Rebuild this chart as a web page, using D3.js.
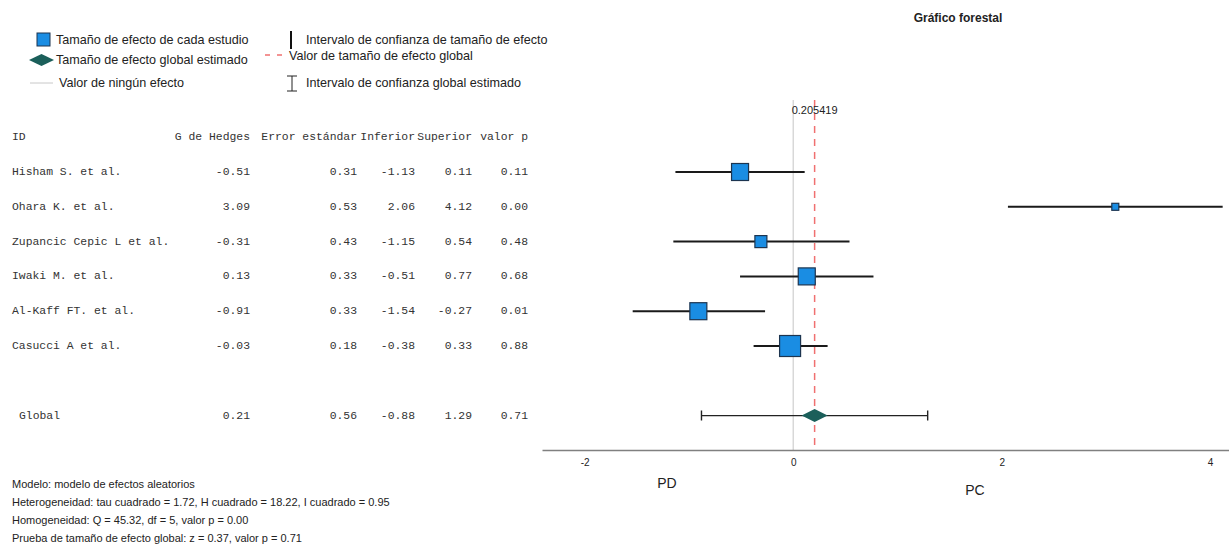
<!DOCTYPE html>
<html>
<head>
<meta charset="utf-8">
<script src="https://cdn.jsdelivr.net/npm/d3@7"></script>
<style>
  body { margin: 0; background: #fff; }
  text { font-family: "Liberation Sans", Arial, sans-serif; fill: #222; }
  .mono { font-family: "Liberation Mono", monospace; font-size: 11.4px; fill: #333; }
</style>
</head>
<body>
<svg id="forestSVG" width="1229" height="546"></svg>
<script>
// study data
const studies = ["Hisham S. et al.", "Ohara K. et al.", "Zupancic Cepic L et al.", "Iwaki M. et al.", "Al-Kaff FT. et al.", "Casucci A et al."];
const hedges = [-0.51, 3.09, -0.31, 0.13, -0.91, -0.03];
const stdErr = [0.31, 0.53, 0.43, 0.33, 0.33, 0.18];
const lower = [-1.13, 2.06, -1.15, -0.51, -1.54, -0.38];
const upper = [0.11, 4.12, 0.54, 0.77, -0.27, 0.33];
const pValue = [0.11, 0.00, 0.48, 0.68, 0.01, 0.88];
// relative weight of each study (marker side)
const weight = [17, 7, 12, 17, 17, 21];

const overall = { label: "Global", g: 0.21, se: 0.56, lo: -0.88, hi: 1.29, p: 0.71 };
const overallExact = 0.205419;

const headers = ["G de Hedges", "Error estándar", "Inferior", "Superior", "valor p"];
const xTicks = [-2, 0, 2, 4];
const notes = [
  "Modelo: modelo de efectos aleatorios",
  "Heterogeneidad: tau cuadrado = 1.72, H cuadrado = 18.22, I cuadrado = 0.95",
  "Homogeneidad: Q = 45.32, df = 5, valor p = 0.00",
  "Prueba de tamaño de efecto global: z = 0.37, valor p = 0.71"
];

const svg = d3.select("#forestSVG");
const fillSq = "#1a8de3", strokeSq = "#1d3550", diamondCol = "#1b5f5a", refRed = "#f07070";

const x = d3.scaleLinear().domain([-2.41, 4.2]).range([542, 1231]);
const y = d3.scaleLinear().domain([0, 1]).range([172, 206.8]);   // row index -> pixel
const rowGlobal = 7;

// title
svg.append("text").attr("x", 958).attr("y", 22).attr("text-anchor", "middle")
  .style("font-size", "12px").style("font-weight", "bold").text("Gráfico forestal");

// legend
const leg = svg.append("g");
leg.append("rect").attr("x", 37).attr("y", 33).attr("width", 13).attr("height", 13)
  .attr("fill", fillSq).attr("stroke", strokeSq);
leg.append("path").attr("d", "M29,60 L41.5,54 L54,60 L41.5,66 Z").attr("fill", diamondCol);
leg.append("line").attr("x1", 30).attr("x2", 53).attr("y1", 83).attr("y2", 83).attr("stroke", "#c8c8c8");
leg.append("line").attr("x1", 291).attr("x2", 291).attr("y1", 31).attr("y2", 49).attr("stroke", "#111").attr("stroke-width", 2);
leg.append("line").attr("x1", 265).attr("x2", 286).attr("y1", 55).attr("y2", 55)
  .attr("stroke", refRed).attr("stroke-width", 1.3).attr("stroke-dasharray", "5,7");
leg.append("path").attr("d", "M287,76 H297 M292,76 V91 M287,91 H297").attr("stroke", "#222").attr("fill", "none");
const legText = [
  [56, 40, "Tamaño de efecto de cada estudio"],
  [56, 60, "Tamaño de efecto global estimado"],
  [59, 83, "Valor de ningún efecto"],
  [306, 40, "Intervalo de confianza de tamaño de efecto"],
  [289, 56, "Valor de tamaño de efecto global"],
  [306, 83, "Intervalo de confianza global estimado"]
];
leg.selectAll("text.leg").data(legText).join("text").attr("class", "leg")
  .attr("x", d => d[0]).attr("y", d => d[1]).attr("dominant-baseline", "central")
  .style("font-size", "12.6px").text(d => d[2]);

// table
const colRight = [250, 357, 415, 472, 528];
const tbl = svg.append("g");
tbl.append("text").attr("class", "mono").attr("x", 12).attr("y", y(-1)).attr("dominant-baseline", "central").text("ID");
tbl.selectAll("text.hdr").data(headers).join("text").attr("class", "mono hdr")
  .attr("x", (d, i) => colRight[i]).attr("y", y(-1)).attr("text-anchor", "end")
  .attr("dominant-baseline", "central").text(d => d);

const rows = studies.map((s, i) => ({ label: s, idx: i, vals: [hedges[i], stdErr[i], lower[i], upper[i], pValue[i]] }));
rows.push({ label: overall.label, idx: rowGlobal, vals: [overall.g, overall.se, overall.lo, overall.hi, overall.p], global: true });

rows.forEach(r => {
  tbl.append("text").attr("class", "mono").attr("x", r.global ? 19 : 12).attr("y", y(r.idx))
    .attr("dominant-baseline", "central").text(r.label);
  r.vals.forEach((v, j) => {
    tbl.append("text").attr("class", "mono").attr("x", colRight[j]).attr("y", y(r.idx))
      .attr("text-anchor", "end").attr("dominant-baseline", "central").text(v.toFixed(2));
  });
});

// plot
const plot = svg.append("g");
const axisY = 450;

plot.append("line").attr("x1", x(0)).attr("x2", x(0)).attr("y1", 100).attr("y2", axisY)
  .attr("stroke", "#cfcfcf").attr("stroke-width", 1.2);
plot.append("line").attr("x1", x(overallExact)).attr("x2", x(overallExact)).attr("y1", 100).attr("y2", axisY)
  .attr("stroke", refRed).attr("stroke-width", 1.5).attr("stroke-dasharray", "7,6");
plot.append("text").attr("x", x(overallExact)).attr("y", 110).attr("text-anchor", "middle")
  .attr("dominant-baseline", "central").style("font-size", "11px").text(String(overallExact));

// study CIs and squares
plot.selectAll("line.ci").data(studies).join("line").attr("class", "ci")
  .attr("x1", (d, i) => x(lower[i])).attr("x2", (d, i) => x(upper[i]))
  .attr("y1", (d, i) => y(i)).attr("y2", (d, i) => y(i))
  .attr("stroke", "#1a1a1a").attr("stroke-width", 2);
plot.selectAll("rect.sq").data(studies).join("rect").attr("class", "sq")
  .attr("x", (d, i) => x(hedges[i]) - weight[i] / 2).attr("y", (d, i) => y(i) - weight[i] / 2)
  .attr("width", (d, i) => weight[i]).attr("height", (d, i) => weight[i])
  .attr("fill", fillSq).attr("stroke", strokeSq).attr("stroke-width", 1.2);

// global estimate
const gy = y(rowGlobal);
plot.append("path")
  .attr("d", `M${x(overall.lo)},${gy - 5} V${gy + 5} M${x(overall.lo)},${gy} H${x(overall.hi)} M${x(overall.hi)},${gy - 5} V${gy + 5}`)
  .attr("stroke", "#222").attr("stroke-width", 1.4).attr("fill", "none");
plot.append("path")
  .attr("d", `M${x(overallExact) - 13},${gy} L${x(overallExact)},${gy - 6.5} L${x(overallExact) + 13},${gy} L${x(overallExact)},${gy + 6.5} Z`)
  .attr("fill", diamondCol);

// axis
const axis = plot.append("g").attr("transform", `translate(0,${axisY})`)
  .call(d3.axisBottom(x).tickValues(xTicks).tickSize(0).tickPadding(9).tickFormat(d => String(d)));
axis.select(".domain").attr("stroke", "#808080").attr("stroke-width", 1.5);
axis.selectAll("text").style("font-family", "Liberation Sans, Arial, sans-serif").style("font-size", "10px").attr("fill", "#222");

plot.append("text").attr("x", 667).attr("y", 483).attr("text-anchor", "middle").attr("dominant-baseline", "central")
  .style("font-size", "14px").attr("fill", "#333").text("PD");
plot.append("text").attr("x", 975).attr("y", 490).attr("text-anchor", "middle").attr("dominant-baseline", "central")
  .style("font-size", "14px").attr("fill", "#333").text("PC");

// notes
svg.selectAll("text.note").data(notes).join("text").attr("class", "note")
  .attr("x", 12).attr("y", (d, i) => 484 + i * 18).attr("dominant-baseline", "central")
  .style("font-size", "11px").attr("fill", "#333").text(d => d);
</script>
</body>
</html>
